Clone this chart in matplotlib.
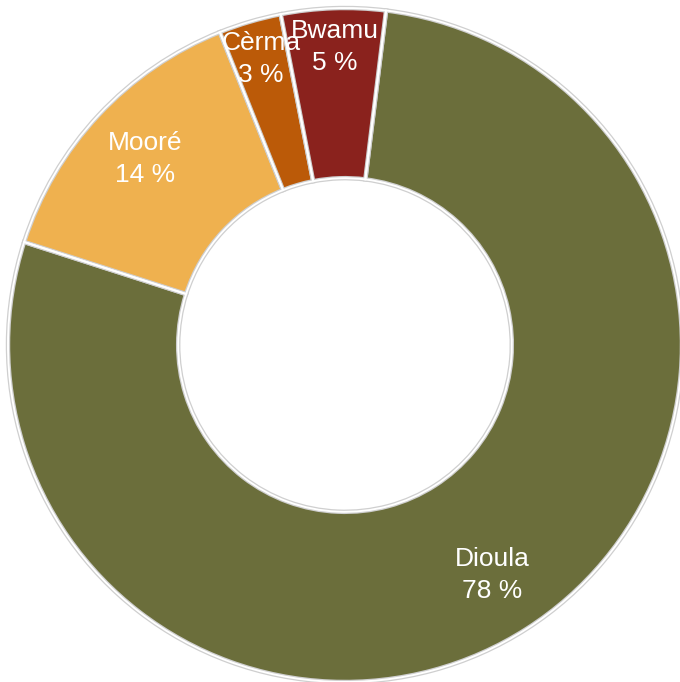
import numpy as np
import matplotlib.pyplot as plt

plt.rcParams['font.family'] = ['Liberation Sans', 'DejaVu Sans']

languages = ['Dioula', 'Mooré', 'Cèrma', 'Bwamu']
shares = [78, 14, 3, 5]
colors = ['#6b6e3b', '#efb14f', '#bb5a08', '#8a221d']
label_r = [0.81, 0.81, 0.885, 0.885]

fig = plt.figure(figsize=(6.8, 6.82), dpi=100)
ax = fig.add_axes([0, 0, 1, 1])

# grey outline under a thin white separator between slices
wedges, _ = ax.pie(shares, colors=colors, startangle=83, counterclock=False,
                   radius=1.0, frame=True,
                   wedgeprops=dict(width=0.505, edgecolor='#cfcfcf', linewidth=3.2))
ax.pie(shares, colors=['none'] * len(shares), startangle=83, counterclock=False,
       radius=1.0, frame=True,
       wedgeprops=dict(width=0.505, edgecolor='white', linewidth=1.4))

for w, name, val, r in zip(wedges, languages, shares, label_r):
    mid = np.radians((w.theta1 + w.theta2) / 2)
    ax.text(r * np.cos(mid), r * np.sin(mid), f'{name}\n{val} %',
            ha='center', va='center', color='white', fontsize=19,
            linespacing=1.45)

ax.set_xlim(-345 / 337, 335 / 337)
ax.set_ylim(-337 / 337, 345 / 337)
ax.set_aspect('auto')
ax.axis('off')

fig.savefig('out.png', dpi=100)
